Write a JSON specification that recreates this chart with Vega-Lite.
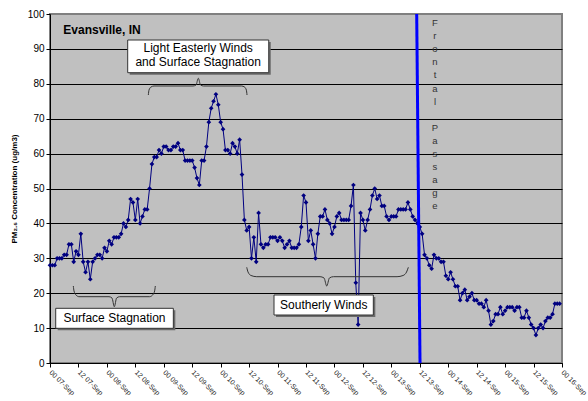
{
  "$schema": "https://vega.github.io/schema/vega-lite/v6.json",
  "width": 512,
  "height": 349,
  "autosize": {"type": "none"},
  "padding": {"left": 50, "top": 14, "right": 26, "bottom": 38},
  "background": "white",
  "config": {
    "view": {"fill": "#C0C0C0", "stroke": "#808080", "strokeWidth": 2},
    "font": "Liberation Sans",
    "axis": {"labelFont": "Liberation Sans", "titleFont": "Liberation Sans"}
  },
  "datasets": {
    "series": [
      {"hour":0,"pm":28},{"hour":1,"pm":28},{"hour":2,"pm":28},{"hour":3,"pm":30},{"hour":4,"pm":30},{"hour":5,"pm":30},{"hour":6,"pm":31},{"hour":7,"pm":31},{"hour":8,"pm":34},{"hour":9,"pm":34},
      {"hour":10,"pm":29},{"hour":11,"pm":32},{"hour":12,"pm":31},{"hour":13,"pm":37},{"hour":14,"pm":29},{"hour":15,"pm":26},{"hour":16,"pm":29},{"hour":17,"pm":24},{"hour":18,"pm":29},{"hour":19,"pm":30},
      {"hour":20,"pm":31},{"hour":21,"pm":31},{"hour":22,"pm":30},{"hour":23,"pm":33},{"hour":24,"pm":32},{"hour":25,"pm":35},{"hour":26,"pm":34},{"hour":27,"pm":36},{"hour":28,"pm":36},{"hour":29,"pm":36},
      {"hour":30,"pm":37},{"hour":31,"pm":40},{"hour":32,"pm":39},{"hour":33,"pm":41},{"hour":34,"pm":47},{"hour":35,"pm":46},{"hour":36,"pm":41},{"hour":37,"pm":47},{"hour":38,"pm":40},{"hour":39,"pm":42},
      {"hour":40,"pm":44},{"hour":41,"pm":44},{"hour":42,"pm":50},{"hour":43,"pm":57},{"hour":44,"pm":59},{"hour":45,"pm":59},{"hour":46,"pm":61},{"hour":47,"pm":60},{"hour":48,"pm":62},{"hour":49,"pm":62},
      {"hour":50,"pm":61},{"hour":51,"pm":61},{"hour":52,"pm":62},{"hour":53,"pm":62},{"hour":54,"pm":63},{"hour":55,"pm":61},{"hour":56,"pm":61},{"hour":57,"pm":58},{"hour":58,"pm":58},{"hour":59,"pm":58},
      {"hour":60,"pm":58},{"hour":61,"pm":56},{"hour":62,"pm":53},{"hour":63,"pm":51},{"hour":64,"pm":58},{"hour":65,"pm":58},{"hour":66,"pm":62},{"hour":67,"pm":69},{"hour":68,"pm":73},{"hour":69,"pm":75},
      {"hour":70,"pm":77},{"hour":71,"pm":74},{"hour":72,"pm":69},{"hour":73,"pm":67},{"hour":74,"pm":61},{"hour":75,"pm":61},{"hour":76,"pm":60},{"hour":77,"pm":63},{"hour":78,"pm":62},{"hour":79,"pm":60},
      {"hour":80,"pm":64},{"hour":81,"pm":54},{"hour":82,"pm":41},{"hour":83,"pm":38},{"hour":84,"pm":39},{"hour":85,"pm":30},{"hour":86,"pm":36},{"hour":87,"pm":29},{"hour":88,"pm":43},{"hour":89,"pm":34},
      {"hour":90,"pm":33},{"hour":91,"pm":34},{"hour":92,"pm":34},{"hour":93,"pm":36},{"hour":94,"pm":36},{"hour":95,"pm":36},{"hour":96,"pm":35},{"hour":97,"pm":36},{"hour":98,"pm":35},{"hour":99,"pm":33},
      {"hour":100,"pm":34},{"hour":101,"pm":35},{"hour":102,"pm":33},{"hour":103,"pm":33},{"hour":104,"pm":33},{"hour":105,"pm":34},{"hour":106,"pm":39},{"hour":107,"pm":48},{"hour":108,"pm":46},{"hour":109,"pm":35},
      {"hour":110,"pm":38},{"hour":111,"pm":34},{"hour":112,"pm":30},{"hour":113,"pm":37},{"hour":114,"pm":42},{"hour":115,"pm":42},{"hour":116,"pm":44},{"hour":117,"pm":41},{"hour":118,"pm":40},{"hour":119,"pm":37},
      {"hour":120,"pm":39},{"hour":121,"pm":42},{"hour":122,"pm":43},{"hour":123,"pm":41},{"hour":124,"pm":41},{"hour":125,"pm":41},{"hour":126,"pm":41},{"hour":127,"pm":45},{"hour":128,"pm":51},{"hour":129,"pm":23},
      {"hour":130,"pm":11},{"hour":131,"pm":43},{"hour":132,"pm":41},{"hour":133,"pm":38},{"hour":134,"pm":41},{"hour":135,"pm":44},{"hour":136,"pm":48},{"hour":137,"pm":50},{"hour":138,"pm":47},{"hour":139,"pm":48},
      {"hour":140,"pm":45},{"hour":141,"pm":45},{"hour":142,"pm":42},{"hour":143,"pm":41},{"hour":144,"pm":42},{"hour":145,"pm":42},{"hour":146,"pm":42},{"hour":147,"pm":44},{"hour":148,"pm":44},{"hour":149,"pm":44},
      {"hour":150,"pm":44},{"hour":151,"pm":46},{"hour":152,"pm":44},{"hour":153,"pm":42},{"hour":154,"pm":41},{"hour":155,"pm":40},{"hour":156,"pm":39},{"hour":157,"pm":37},{"hour":158,"pm":31},{"hour":159,"pm":30},
      {"hour":160,"pm":28},{"hour":161,"pm":27},{"hour":162,"pm":31},{"hour":163,"pm":30},{"hour":164,"pm":30},{"hour":165,"pm":29},{"hour":166,"pm":29},{"hour":167,"pm":25},{"hour":168,"pm":24},{"hour":169,"pm":26},
      {"hour":170,"pm":24},{"hour":171,"pm":22},{"hour":172,"pm":22},{"hour":173,"pm":18},{"hour":174,"pm":20},{"hour":175,"pm":21},{"hour":176,"pm":18},{"hour":177,"pm":19},{"hour":178,"pm":20},{"hour":179,"pm":18},
      {"hour":180,"pm":18},{"hour":181,"pm":17},{"hour":182,"pm":17},{"hour":183,"pm":16},{"hour":184,"pm":18},{"hour":185,"pm":15},{"hour":186,"pm":11},{"hour":187,"pm":12},{"hour":188,"pm":14},{"hour":189,"pm":14},
      {"hour":190,"pm":16},{"hour":191,"pm":14},{"hour":192,"pm":15},{"hour":193,"pm":16},{"hour":194,"pm":16},{"hour":195,"pm":16},{"hour":196,"pm":15},{"hour":197,"pm":16},{"hour":198,"pm":16},{"hour":199,"pm":13},
      {"hour":200,"pm":13},{"hour":201,"pm":15},{"hour":202,"pm":13},{"hour":203,"pm":11},{"hour":204,"pm":10},{"hour":205,"pm":8},{"hour":206,"pm":10},{"hour":207,"pm":11},{"hour":208,"pm":10},{"hour":209,"pm":12},
      {"hour":210,"pm":13},{"hour":211,"pm":13},{"hour":212,"pm":14},{"hour":213,"pm":17},{"hour":214,"pm":17},{"hour":215,"pm":17}
    ],
    "braces": [
      {"brace":"easterly","hour":41.48,"pm":76.79},{"brace":"easterly","hour":41.77,"pm":78.22},{"brace":"easterly","hour":42.62,"pm":79.08},{"brace":"easterly","hour":43.88,"pm":79.37},
      {"brace":"easterly","hour":60.34,"pm":79.37},{"brace":"easterly","hour":61.6,"pm":79.66},{"brace":"easterly","hour":62.57,"pm":81.58},{"brace":"easterly","hour":63.5,"pm":79.66},
      {"brace":"easterly","hour":64.77,"pm":79.37},{"brace":"easterly","hour":80.8,"pm":79.37},{"brace":"easterly","hour":82.07,"pm":79.08},{"brace":"easterly","hour":82.83,"pm":78.22},{"brace":"easterly","hour":83.12,"pm":76.79},
      {"brace":"stagnation","hour":9.83,"pm":22.06},{"brace":"stagnation","hour":10.13,"pm":20.63},{"brace":"stagnation","hour":10.97,"pm":19.48},{"brace":"stagnation","hour":12.24,"pm":19.0},
      {"brace":"stagnation","hour":24.89,"pm":19.0},{"brace":"stagnation","hour":26.16,"pm":18.62},{"brace":"stagnation","hour":27.13,"pm":16.13},{"brace":"stagnation","hour":28.1,"pm":18.62},
      {"brace":"stagnation","hour":29.37,"pm":19.0},{"brace":"stagnation","hour":42.03,"pm":19.0},{"brace":"stagnation","hour":43.29,"pm":19.48},{"brace":"stagnation","hour":44.14,"pm":20.63},{"brace":"stagnation","hour":44.43,"pm":22.06},
      {"brace":"southerly","hour":83.0,"pm":27.42},{"brace":"southerly","hour":83.54,"pm":26.07},{"brace":"southerly","hour":84.81,"pm":25.07},{"brace":"southerly","hour":87.22,"pm":24.73},
      {"brace":"southerly","hour":113.92,"pm":24.73},{"brace":"southerly","hour":115.61,"pm":24.36},{"brace":"southerly","hour":116.75,"pm":22.06},{"brace":"southerly","hour":117.89,"pm":24.36},
      {"brace":"southerly","hour":119.58,"pm":24.73},{"brace":"southerly","hour":146.41,"pm":24.73},{"brace":"southerly","hour":148.95,"pm":25.07},{"brace":"southerly","hour":150.42,"pm":26.07},{"brace":"southerly","hour":151.18,"pm":27.42}
    ],
    "boxes": [
      {"hour":32.78,"hour2":92.28,"pm":92.55,"pm2":83.18},
      {"hour":2.41,"hour2":52.03,"pm":15.67,"pm2":9.94},
      {"hour":94.5,"hour2":136.4,"pm":19.48,"pm2":13.75}
    ],
    "boxText": [
      {"hour":62.5,"pm":90.3,"label":"Light Easterly Winds\nand Surface Stagnation"},
      {"hour":27.2,"pm":12.8,"label":"Surface Stagnation"},
      {"hour":115.5,"pm":16.6,"label":"Southerly Winds"}
    ],
    "front": [{"hour":154.7,"hour2":156.1,"pm":100,"pm2":0}],
    "frontText": [
      {"hour":162.4,"pm":96.56,"label":"F\nr\no\nn\nt\na\nl"},
      {"hour":162.4,"pm":66.6,"label":"P\na\ns\ns\na\ng\ne"}
    ],
    "site": [{"hour":5.6,"pm":94.4,"label":"Evansville, IN"}]
  },
  "encoding": {
    "x": {
      "field": "hour", "type": "quantitative",
      "scale": {"domain": [0, 216], "nice": false, "zero": false},
      "axis": {
        "title": null, "grid": false,
        "values": [0,12,24,36,48,60,72,84,96,108,120,132,144,156,168,180,192,204,216],
        "labelExpr": "(datum.value % 24 == 0 ? '00 ' : '12 ') + (floor(datum.value / 24) + 7 < 10 ? '0' : '') + (floor(datum.value / 24) + 7) + '-Sep'",
        "labelAngle": 45, "labelAlign": "left", "labelBaseline": "middle",
        "labelFontSize": 7, "labelColor": "#222", "labelPadding": 4,
        "tickSize": 4, "tickColor": "black", "domainColor": "black", "labelOverlap": false, "labelBound": false
      }
    },
    "y": {
      "field": "pm", "type": "quantitative",
      "scale": {"domain": [0, 100], "nice": false},
      "axis": {
        "title": "PM₂.₅ Concentration (ug/m3)", "titleFontSize": 8, "titleFontWeight": "bold", "titleColor": "black", "titlePadding": 9,
        "values": [0,10,20,30,40,50,60,70,80,90,100], "labelOverlap": false,
        "grid": true, "gridColor": {"condition": {"test": "datum.value == 100", "value": "#808080"}, "value": "black"}, "gridWidth": 1, "gridOpacity": 1,
        "labelFontSize": 10, "labelColor": "black", "labelPadding": 2,
        "tickSize": 4, "tickColor": "black", "domainColor": "black"
      }
    }
  },
  "layer": [
    {
      "data": {"name": "series"},
      "mark": {"type": "line", "color": "#000080", "strokeWidth": 1, "point": {"shape": "diamond", "size": 22, "filled": true, "color": "#000080"}}
    },
    {
      "data": {"name": "braces"},
      "mark": {"type": "line", "color": "#333333", "strokeWidth": 1, "interpolate": "monotone"},
      "encoding": {"detail": {"field": "brace"}}
    },
    {
      "data": {"name": "boxes"},
      "mark": {"type": "rect", "fill": "#6a6a6a", "xOffset": 2, "x2Offset": 2, "yOffset": 2, "y2Offset": 2},
      "encoding": {"x2": {"field": "hour2"}, "y2": {"field": "pm2"}}
    },
    {
      "data": {"name": "boxes"},
      "mark": {"type": "rect", "fill": "white", "stroke": "#333333", "strokeWidth": 1},
      "encoding": {"x2": {"field": "hour2"}, "y2": {"field": "pm2"}}
    },
    {
      "data": {"name": "boxText"},
      "mark": {"type": "text", "fontSize": 12, "color": "black", "align": "center", "baseline": "middle", "lineBreak": "\n", "lineHeight": 14.5},
      "encoding": {"text": {"field": "label"}}
    },
    {
      "data": {"name": "front"},
      "mark": {"type": "rule", "color": "#0000FF", "strokeWidth": 3},
      "encoding": {"x2": {"field": "hour2"}, "y2": {"field": "pm2"}}
    },
    {
      "data": {"name": "frontText"},
      "mark": {"type": "text", "fontSize": 9.5, "color": "#333333", "align": "center", "baseline": "alphabetic", "lineBreak": "\n", "lineHeight": 13.1},
      "encoding": {"text": {"field": "label"}}
    },
    {
      "data": {"name": "site"},
      "mark": {"type": "text", "fontSize": 12, "fontWeight": "bold", "color": "black", "align": "left", "baseline": "alphabetic"},
      "encoding": {"text": {"field": "label"}}
    }
  ]
}
